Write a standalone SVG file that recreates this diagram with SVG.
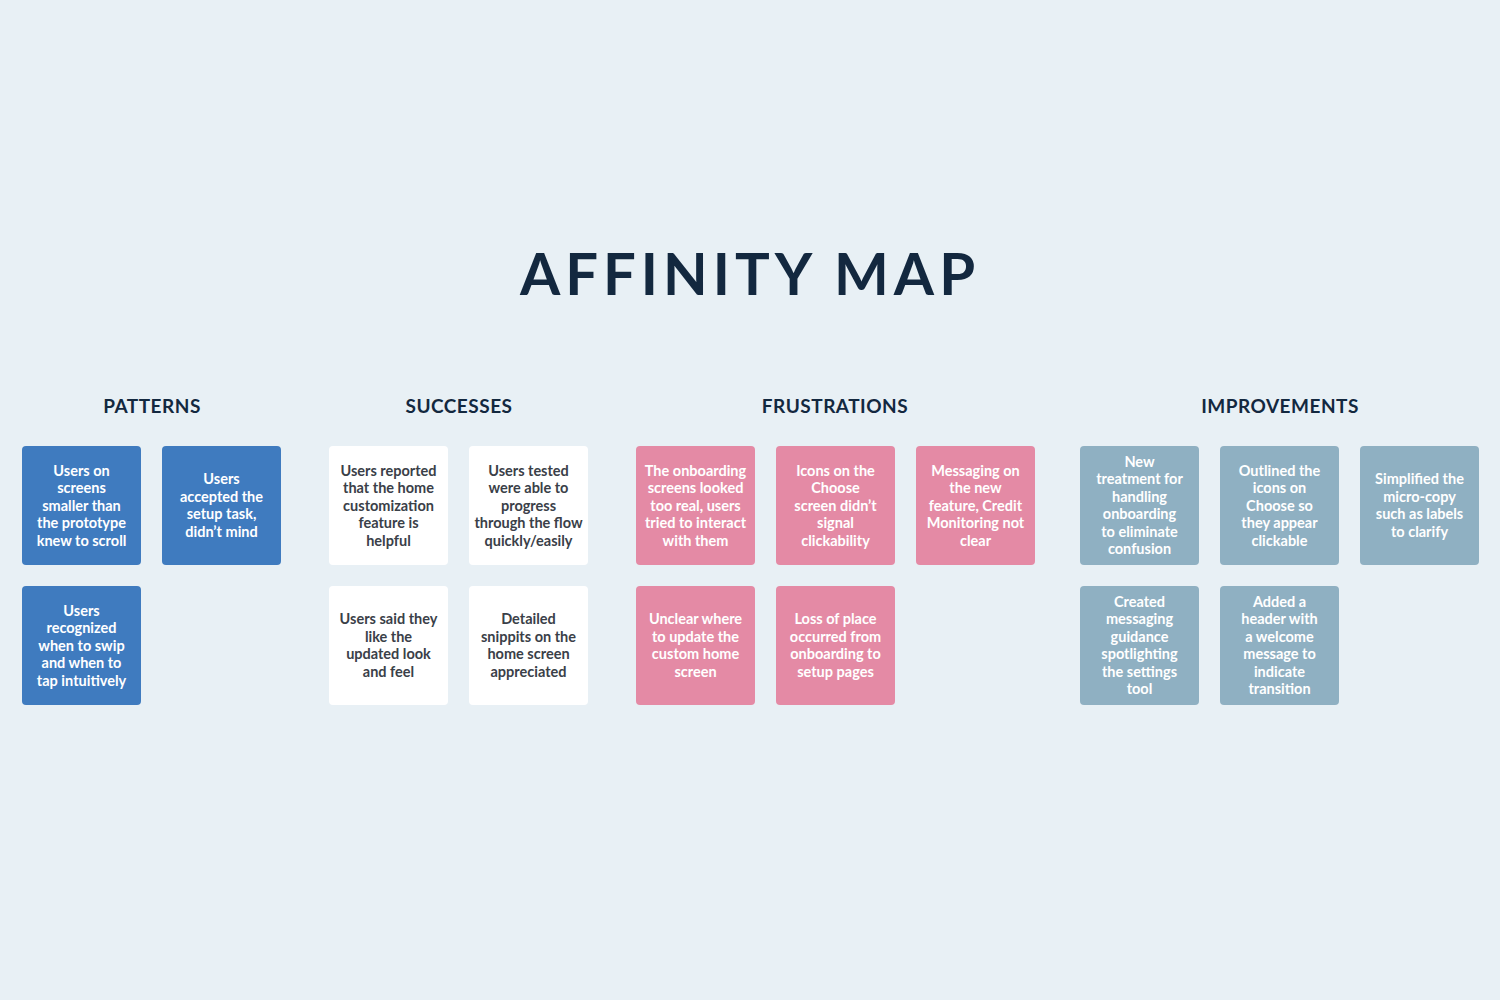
<svg xmlns="http://www.w3.org/2000/svg" width="1500" height="1000" viewBox="0 0 1500 1000">
<style>
.t{font-family:Lato,"Open Sans",sans-serif;font-weight:700;font-size:14.5px;text-anchor:middle}
.w{fill:#fff}.d{fill:#3a4048}
.h{font-family:Lato,"Open Sans",sans-serif;font-weight:700;font-size:19px;fill:#13283f;text-anchor:middle;letter-spacing:0.5px}
.b{fill:#3f7bbf}.p{fill:#e48aa5}.g{fill:#8fb0c2}.c{fill:#fff}
</style>
<rect width="1500" height="1000" fill="#e8f0f5"/>
<text x="750" y="295" font-family="Lato,'Open Sans',sans-serif" font-weight="700" font-size="58" fill="#13283f" text-anchor="middle" letter-spacing="5">AFFINITY MAP</text>
<text class="h" x="152" y="413">PATTERNS</text>
<text class="h" x="459" y="413">SUCCESSES</text>
<text class="h" x="835" y="413">FRUSTRATIONS</text>
<text class="h" x="1280" y="413">IMPROVEMENTS</text>
<g id="connectors"/>
<g id="p1"><rect class="b" x="22" y="446" width="119" height="119" rx="4"/><text class="t w" y="475.5"><tspan x="81.5">Users on</tspan><tspan x="81.5" dy="17.5">screens</tspan><tspan x="81.5" dy="17.5">smaller than</tspan><tspan x="81.5" dy="17.5">the prototype</tspan><tspan x="81.5" dy="17.5">knew to scroll</tspan></text></g>
<g id="p2"><rect class="b" x="162" y="446" width="119" height="119" rx="4"/><text class="t w" y="484.25"><tspan x="221.5">Users</tspan><tspan x="221.5" dy="17.5">accepted the</tspan><tspan x="221.5" dy="17.5">setup task,</tspan><tspan x="221.5" dy="17.5">didn’t mind</tspan></text></g>
<g id="p3"><rect class="b" x="22" y="586" width="119" height="119" rx="4"/><text class="t w" y="615.5"><tspan x="81.5">Users</tspan><tspan x="81.5" dy="17.5">recognized</tspan><tspan x="81.5" dy="17.5">when to swip</tspan><tspan x="81.5" dy="17.5">and when to</tspan><tspan x="81.5" dy="17.5">tap intuitively</tspan></text></g>
<g id="s1"><rect class="c" x="329" y="446" width="119" height="119" rx="4"/><text class="t d" y="475.5"><tspan x="388.5">Users reported</tspan><tspan x="388.5" dy="17.5">that the home</tspan><tspan x="388.5" dy="17.5">customization</tspan><tspan x="388.5" dy="17.5">feature is</tspan><tspan x="388.5" dy="17.5">helpful</tspan></text></g>
<g id="s2"><rect class="c" x="469" y="446" width="119" height="119" rx="4"/><text class="t d" y="475.5"><tspan x="528.5">Users tested</tspan><tspan x="528.5" dy="17.5">were able to</tspan><tspan x="528.5" dy="17.5">progress</tspan><tspan x="528.5" dy="17.5">through the flow</tspan><tspan x="528.5" dy="17.5">quickly/easily</tspan></text></g>
<g id="s3"><rect class="c" x="329" y="586" width="119" height="119" rx="4"/><text class="t d" y="624.25"><tspan x="388.5">Users said they</tspan><tspan x="388.5" dy="17.5">like the</tspan><tspan x="388.5" dy="17.5">updated look</tspan><tspan x="388.5" dy="17.5">and feel</tspan></text></g>
<g id="s4"><rect class="c" x="469" y="586" width="119" height="119" rx="4"/><text class="t d" y="624.25"><tspan x="528.5">Detailed</tspan><tspan x="528.5" dy="17.5">snippits on the</tspan><tspan x="528.5" dy="17.5">home screen</tspan><tspan x="528.5" dy="17.5">appreciated</tspan></text></g>
<g id="f1"><rect class="p" x="636" y="446" width="119" height="119" rx="4"/><text class="t w" y="475.5"><tspan x="695.5">The onboarding</tspan><tspan x="695.5" dy="17.5">screens looked</tspan><tspan x="695.5" dy="17.5">too real, users</tspan><tspan x="695.5" dy="17.5">tried to interact</tspan><tspan x="695.5" dy="17.5">with them</tspan></text></g>
<g id="f2"><rect class="p" x="776" y="446" width="119" height="119" rx="4"/><text class="t w" y="475.5"><tspan x="835.5">Icons on the</tspan><tspan x="835.5" dy="17.5">Choose</tspan><tspan x="835.5" dy="17.5">screen didn’t</tspan><tspan x="835.5" dy="17.5">signal</tspan><tspan x="835.5" dy="17.5">clickability</tspan></text></g>
<g id="f3"><rect class="p" x="916" y="446" width="119" height="119" rx="4"/><text class="t w" y="475.5"><tspan x="975.5">Messaging on</tspan><tspan x="975.5" dy="17.5">the new</tspan><tspan x="975.5" dy="17.5">feature, Credit</tspan><tspan x="975.5" dy="17.5">Monitoring not</tspan><tspan x="975.5" dy="17.5">clear</tspan></text></g>
<g id="f4"><rect class="p" x="636" y="586" width="119" height="119" rx="4"/><text class="t w" y="624.25"><tspan x="695.5">Unclear where</tspan><tspan x="695.5" dy="17.5">to update the</tspan><tspan x="695.5" dy="17.5">custom home</tspan><tspan x="695.5" dy="17.5">screen</tspan></text></g>
<g id="f5"><rect class="p" x="776" y="586" width="119" height="119" rx="4"/><text class="t w" y="624.25"><tspan x="835.5">Loss of place</tspan><tspan x="835.5" dy="17.5">occurred from</tspan><tspan x="835.5" dy="17.5">onboarding to</tspan><tspan x="835.5" dy="17.5">setup pages</tspan></text></g>
<g id="i1"><rect class="g" x="1080" y="446" width="119" height="119" rx="4"/><text class="t w" y="466.75"><tspan x="1139.5">New</tspan><tspan x="1139.5" dy="17.5">treatment for</tspan><tspan x="1139.5" dy="17.5">handling</tspan><tspan x="1139.5" dy="17.5">onboarding</tspan><tspan x="1139.5" dy="17.5">to eliminate</tspan><tspan x="1139.5" dy="17.5">confusion</tspan></text></g>
<g id="i2"><rect class="g" x="1220" y="446" width="119" height="119" rx="4"/><text class="t w" y="475.5"><tspan x="1279.5">Outlined the</tspan><tspan x="1279.5" dy="17.5">icons on</tspan><tspan x="1279.5" dy="17.5">Choose so</tspan><tspan x="1279.5" dy="17.5">they appear</tspan><tspan x="1279.5" dy="17.5">clickable</tspan></text></g>
<g id="i3"><rect class="g" x="1360" y="446" width="119" height="119" rx="4"/><text class="t w" y="484.25"><tspan x="1419.5">Simplified the</tspan><tspan x="1419.5" dy="17.5">micro-copy</tspan><tspan x="1419.5" dy="17.5">such as labels</tspan><tspan x="1419.5" dy="17.5">to clarify</tspan></text></g>
<g id="i4"><rect class="g" x="1080" y="586" width="119" height="119" rx="4"/><text class="t w" y="606.75"><tspan x="1139.5">Created</tspan><tspan x="1139.5" dy="17.5">messaging</tspan><tspan x="1139.5" dy="17.5">guidance</tspan><tspan x="1139.5" dy="17.5">spotlighting</tspan><tspan x="1139.5" dy="17.5">the settings</tspan><tspan x="1139.5" dy="17.5">tool</tspan></text></g>
<g id="i5"><rect class="g" x="1220" y="586" width="119" height="119" rx="4"/><text class="t w" y="606.75"><tspan x="1279.5">Added a</tspan><tspan x="1279.5" dy="17.5">header with</tspan><tspan x="1279.5" dy="17.5">a welcome</tspan><tspan x="1279.5" dy="17.5">message to</tspan><tspan x="1279.5" dy="17.5">indicate</tspan><tspan x="1279.5" dy="17.5">transition</tspan></text></g>
</svg>
